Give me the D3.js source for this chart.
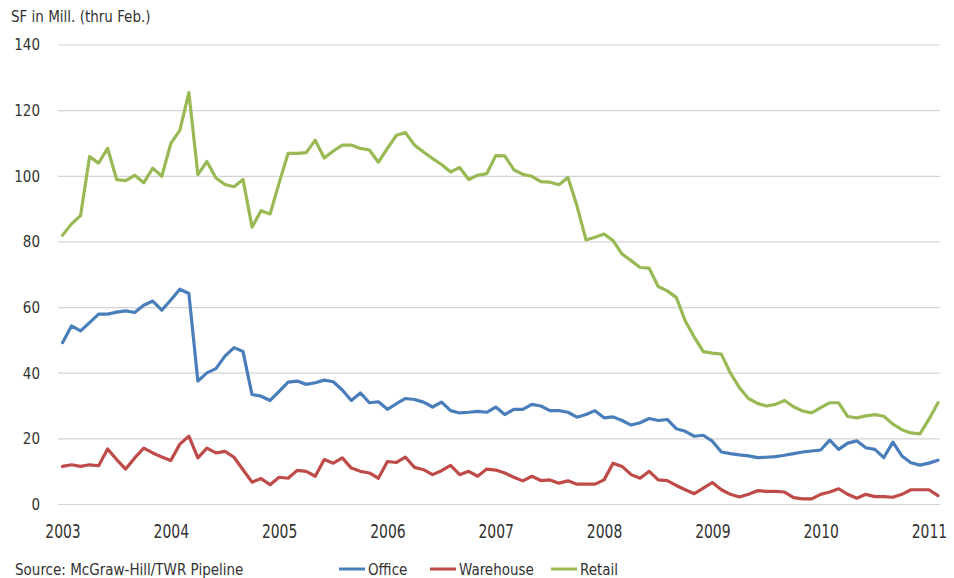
<!DOCTYPE html>
<html>
<head>
<meta charset="utf-8">
<script src="https://cdn.jsdelivr.net/npm/d3@7"></script>
<style>
  html, body { margin: 0; padding: 0; background: #fff; }
  svg { display: block; }
  text { font-family: "DejaVu Sans Condensed", "DejaVu Sans", sans-serif; fill: #333; }
</style>
</head>
<body>
<svg id="chart" width="954" height="578"></svg>
<script>
// Monthly square footage under construction, Jan 2003 – Feb 2011 (millions of SF)
const yearLabels = ["2003", "2004", "2005", "2006", "2007", "2008", "2009", "2010", "2011"];
const yTicks = [0, 20, 40, 60, 80, 100, 120, 140];

const office = [
  49.3, 54.4, 52.9, 55.4, 58, 58, 58.6, 59, 58.5, 60.7, 62, 59.2,
  62.3, 65.6, 64.3, 37.6, 40.1, 41.4, 45.2, 47.8, 46.6, 33.5, 33, 31.7,
  34.5, 37.3, 37.6, 36.6, 37.1, 37.9, 37.4, 34.9, 31.7, 34, 31, 31.3,
  29, 30.7, 32.3, 32, 31.2, 29.7, 31.2, 28.6, 27.9, 28.1, 28.4, 28.1,
  29.7, 27.4, 29, 29, 30.5, 30, 28.6, 28.6, 28.1, 26.6, 27.4, 28.6,
  26.4, 26.7, 25.6, 24.2, 24.9, 26.2, 25.6, 25.9, 23.1, 22.3, 20.8, 21.1,
  19.3, 16, 15.5, 15.1, 14.8, 14.3, 14.4, 14.6, 15, 15.5, 16, 16.3,
  16.6, 19.6, 16.8, 18.7, 19.4, 17.3, 16.8, 14.3, 19, 14.8, 12.7, 12,
  12.6, 13.5
];

const warehouse = [
  11.6, 12.1, 11.6, 12.1, 11.8, 16.9, 13.7, 10.8, 14.2, 17.2, 15.7, 14.5,
  13.4, 18.4, 20.8, 14.2, 17.2, 15.7, 16.2, 14.4, 10.6, 6.8, 7.9, 6,
  8.3, 8, 10.4, 10.1, 8.6, 13.7, 12.6, 14.2, 11.1, 10.1, 9.6, 8,
  13.1, 12.8, 14.4, 11.3, 10.6, 9.1, 10.3, 11.9, 9.1, 10.1, 8.6, 10.8,
  10.5, 9.6, 8.3, 7.2, 8.6, 7.3, 7.5, 6.5, 7.2, 6.2, 6.2, 6.2,
  7.5, 12.6, 11.6, 9.1, 8, 10.1, 7.5, 7.3, 5.8, 4.5, 3.3, 5,
  6.7, 4.5, 3.1, 2.3, 3.1, 4.2, 4, 4, 3.8, 2.1, 1.7, 1.7,
  3.1, 3.8, 4.8, 3.1, 1.9, 3.1, 2.4, 2.4, 2.2, 3.1, 4.5, 4.5,
  4.5, 2.7
];

const retail = [
  82, 85.5, 88, 106, 104, 108.5, 99, 98.7, 100.3, 98, 102.5, 100,
  110, 114, 125.5, 100.5, 104.5, 99.5, 97.5, 96.8, 99, 84.5, 89.5, 88.5,
  98, 107, 107, 107.2, 111, 105.6, 107.7, 109.5, 109.5, 108.5, 108, 104.3,
  108.5, 112.5, 113.3, 109.5, 107.4, 105.4, 103.6, 101.3, 102.7, 99, 100.3, 100.8,
  106.3, 106.2, 102, 100.6, 100, 98.4, 98.2, 97.4, 99.6, 91, 80.6, 81.4,
  82.4, 80.4, 76.3, 74.3, 72.2, 72, 66.4, 65.1, 63.1, 55.9, 51, 46.6,
  46.1, 45.8, 40, 35.6, 32.3, 30.8, 30, 30.5, 31.7, 29.8, 28.5, 27.9,
  29.5, 31, 31, 26.8, 26.4, 27, 27.4, 26.9, 24.5, 22.8, 21.8, 21.5,
  26, 31
];

const seriesNames = ["Office", "Warehouse", "Retail"];
const seriesValues = [office, warehouse, retail];
const seriesColors = ["#4A7EBB", "#BE4B48", "#98B954"];

const svg = d3.select("#chart");

const x = d3.scaleLinear().domain([0, office.length - 1]).range([62.5, 938]);
const y = d3.scaleLinear().domain([0, 140]).range([504.5, 45]);

// horizontal gridlines
svg.append("g")
  .selectAll("line")
  .data(yTicks)
  .join("line")
  .attr("x1", 58)
  .attr("x2", 940)
  .attr("y1", d => y(d))
  .attr("y2", d => y(d))
  .attr("stroke", "#d4d4d4")
  .attr("stroke-width", 1.2);

// y axis labels
const yAxis = d3.axisLeft(y).tickValues(yTicks).tickSize(0).tickPadding(0);
svg.append("g")
  .attr("transform", "translate(40,0)")
  .call(yAxis)
  .call(g => g.select(".domain").remove())
  .call(g => g.selectAll("text")
    .attr("font-size", 15)
    .attr("font-family", "'DejaVu Sans Condensed', 'DejaVu Sans', sans-serif")
    .attr("fill", "#333"));

// x axis labels: one per January
const xAxis = d3.axisBottom(x)
  .tickValues(yearLabels.map((d, i) => i * 12))
  .tickFormat((d, i) => yearLabels[i])
  .tickSize(0).tickPadding(0);
svg.append("g")
  .attr("transform", "translate(0,526)")
  .call(xAxis)
  .call(g => g.select(".domain").remove())
  .call(g => g.selectAll("text")
    .attr("font-size", 15.5)
    .attr("font-family", "'DejaVu Sans Condensed', 'DejaVu Sans', sans-serif")
    .attr("fill", "#333")
    .attr("dy", null)
    .attr("y", 0)
    .attr("transform", "translate(0,12) scale(1,1.3)"));

// series lines
const line = d3.line()
  .x((d, i) => x(i))
  .y(d => y(d));

svg.append("g")
  .selectAll("path")
  .data(seriesValues)
  .join("path")
  .attr("d", d => line(d))
  .attr("fill", "none")
  .attr("stroke", (d, i) => seriesColors[i])
  .attr("stroke-width", 3.2)
  .attr("stroke-linejoin", "round")
  .attr("stroke-linecap", "round");

// unit note
svg.append("text")
  .attr("x", 11)
  .attr("y", 22)
  .attr("font-size", 15)
  .text("SF in Mill. (thru Feb.)");

// source note
svg.append("text")
  .attr("x", 15)
  .attr("y", 575)
  .attr("font-size", 15)
  .text("Source: McGraw-Hill/TWR Pipeline");

// legend
const legendX = [339, 430, 551];
const legend = svg.append("g")
  .selectAll("g")
  .data(seriesNames)
  .join("g")
  .attr("transform", (d, i) => `translate(${legendX[i]},569)`);
legend.append("line")
  .attr("x1", 0).attr("x2", 26)
  .attr("y1", 0).attr("y2", 0)
  .attr("stroke", (d, i) => seriesColors[i])
  .attr("stroke-width", 3);
legend.append("text")
  .attr("x", 29)
  .attr("y", 5.5)
  .attr("font-size", 15)
  .text(d => d);
</script>
</body>
</html>
